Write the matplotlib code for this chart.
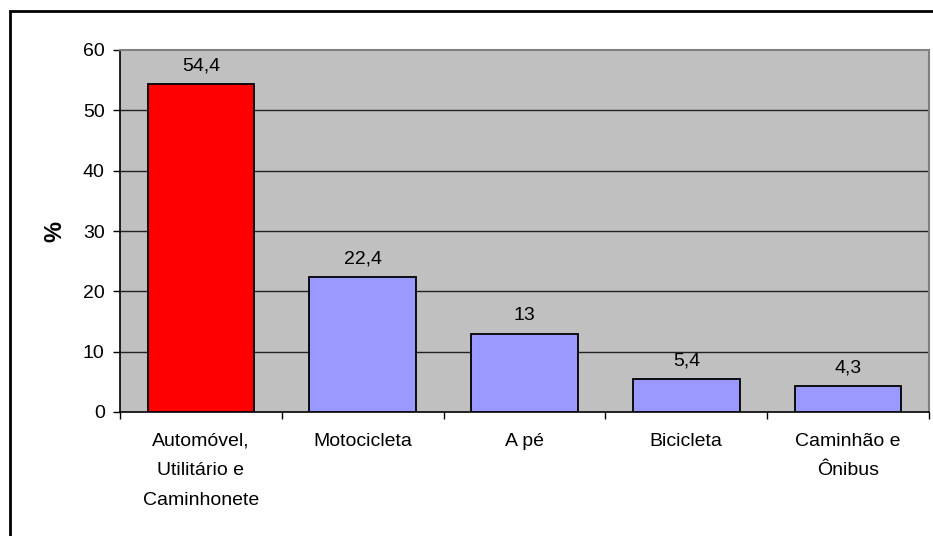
import matplotlib
matplotlib.use("Agg")
import matplotlib.pyplot as plt
from matplotlib.patches import Rectangle
import numpy as np

categories = ["Automóvel,\nUtilitário e\nCaminhonete", "Motocicleta", "A pé", "Bicicleta", "Caminhão e\nÔnibus"]
values = [54.4, 22.4, 13, 5.4, 4.3]
value_labels = ["54,4", "22,4", "13", "5,4", "4,3"]
colors = ["#FF0000", "#9999FF", "#9999FF", "#9999FF", "#9999FF"]
yticks = [0, 10, 20, 30, 40, 50, 60]

plt.rcParams['font.family'] = ['Liberation Sans', 'DejaVu Sans']

W, H = 933, 536
fig = plt.figure(figsize=(W/100, H/100), dpi=100)
fig.patch.set_facecolor("white")

# outer frame (cut at right/bottom)
fig.patches.append(Rectangle((10/W, -0.1), 1.2, (H-11)/H + 0.1, transform=fig.transFigure,
                             fill=False, edgecolor="black", linewidth=2))

left, right, top, bottom = 120, 929, 50, 412
ax = fig.add_axes([left/W, 1-bottom/H, (right-left)/W, (bottom-top)/H])
ax.set_facecolor("#C0C0C0")

FS = 14

x = np.arange(len(categories))
ax.bar(x, values, width=0.66, color=colors, edgecolor="black", linewidth=1.3, zorder=3)
ax.set_xlim(-0.5, len(categories)-0.5)
ax.set_ylim(0, 60)

for yv in yticks[1:-1]:
    ax.axhline(yv, color="#222222", linewidth=1, zorder=1)

for xi, v, lab in zip(x, values, value_labels):
    ax.annotate(lab, (xi, v), xytext=(0, 7), textcoords="offset points",
                ha="center", va="bottom", fontsize=FS, color="black")

ax.set_yticks(yticks)
ax.set_yticklabels([str(t) for t in yticks], fontsize=FS)
ax.tick_params(axis="y", direction="out", length=5, width=1, pad=6)

ax.set_xticks(np.arange(-0.5, len(categories)), minor=False)
ax.set_xticklabels([])
ax.set_xticks(x, minor=True)
ax.set_xticklabels(categories, minor=True, fontsize=FS, linespacing=1.95)
ax.tick_params(axis="x", which="major", direction="out", length=5, width=1)
ax.tick_params(axis="x", which="minor", length=0, pad=15)

for s in ["top", "right"]:
    ax.spines[s].set_color("#808080")
    ax.spines[s].set_linewidth(1.5)
for s in ["left", "bottom"]:
    ax.spines[s].set_color("black")
    ax.spines[s].set_linewidth(1.2)

ax.set_ylabel("%", fontsize=17, fontweight="bold", labelpad=12)

fig.savefig("out.png", dpi=100, facecolor="white")
